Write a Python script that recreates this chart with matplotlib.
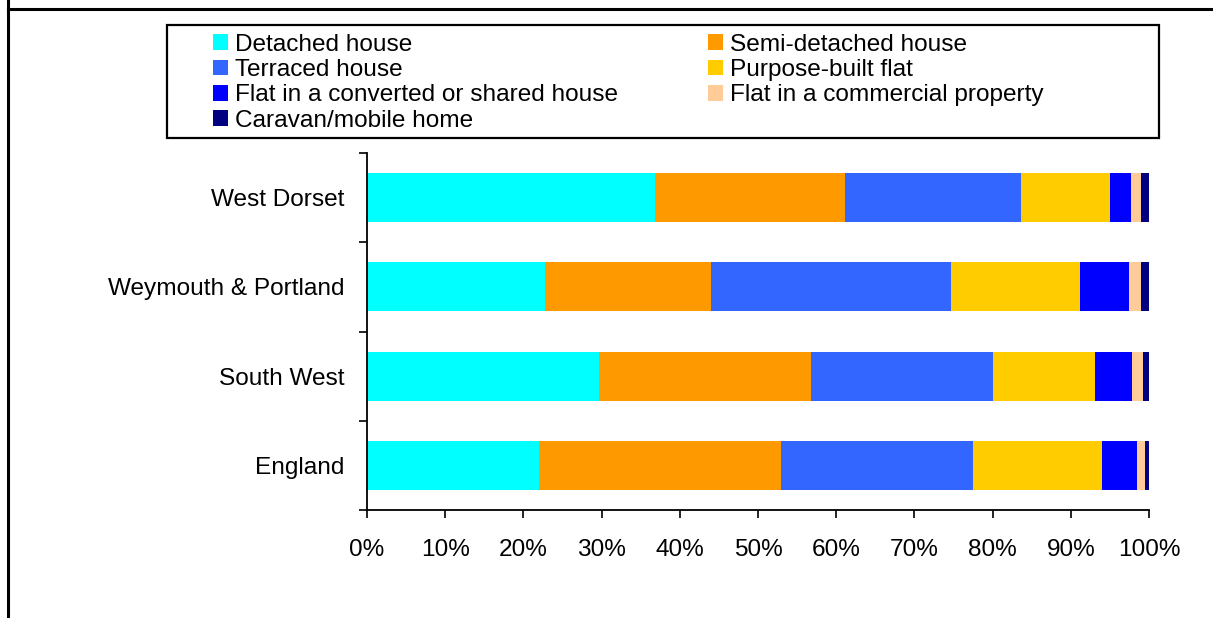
import matplotlib
matplotlib.use("Agg")
import matplotlib.pyplot as plt
from matplotlib.patches import Rectangle
from matplotlib.lines import Line2D
import numpy as np

plt.rcParams['font.family'] = ['Liberation Sans', 'DejaVu Sans']

# Accommodation type shares (% of households) by area
areas = ["West Dorset", "Weymouth & Portland", "South West", "England"]
series_names = [
    "Detached house",
    "Semi-detached house",
    "Terraced house",
    "Purpose-built flat",
    "Flat in a converted or shared house",
    "Flat in a commercial property",
    "Caravan/mobile home",
]
detached = [36.8, 22.8, 29.7, 22.0]
semi_detached = [24.3, 21.2, 27.1, 30.9]
terraced = [22.5, 30.7, 23.3, 24.6]
purpose_built = [11.4, 16.5, 13.0, 16.5]
converted_flat = [2.7, 6.2, 4.7, 4.5]
commercial_flat = [1.3, 1.6, 1.4, 1.0]
caravan = [1.0, 1.0, 0.8, 0.5]
series_values = [detached, semi_detached, terraced, purpose_built,
                 converted_flat, commercial_flat, caravan]
colors = ["#00FFFF", "#FF9900", "#3366FF", "#FFCC00",
          "#0000FF", "#FFCC99", "#000080"]
xtick_labels = ["0%", "10%", "20%", "30%", "40%", "50%",
                "60%", "70%", "80%", "90%", "100%"]

W, H = 1213, 618
FS = 17.6
fig = plt.figure(figsize=(W / 100, H / 100), dpi=100)

def fx(px):
    return px / W

def fy(py):
    return 1 - py / H

# Outer frame lines (left and top)
fig.add_artist(Line2D([fx(8), fx(8)], [0, 1], color="black", lw=2.2,
                      transform=fig.transFigure))
fig.add_artist(Line2D([fx(8), 1], [fy(8.5), fy(8.5)], color="black", lw=2.2,
                      transform=fig.transFigure))

ax = fig.add_axes([fx(367), fy(510), fx(1149) - fx(367), fy(153) - fy(510)])

y = np.arange(len(areas))
left = np.zeros(len(areas))
handles = []
for name, vals, col in zip(series_names, series_values, colors):
    vals = np.array(vals, dtype=float)
    b = ax.barh(y, vals, left=left, height=0.55, color=col, label=name,
                linewidth=0)
    handles.append(b)
    left += vals

ax.set_xlim(0, 100)
ax.set_ylim(len(areas) - 0.5, -0.5)

ax.set_xticks(np.arange(0, 101, 10))
ax.set_xticklabels(xtick_labels, fontsize=FS)
ax.tick_params(axis="x", direction="out", length=6, width=1.2, pad=15,
               colors="black")

ax.set_yticks(y)
ax.set_yticklabels(areas, fontsize=FS)
ax.set_yticks(np.arange(-0.5, len(areas), 1.0), minor=True)
ax.tick_params(axis="y", which="major", length=0, pad=16)
ax.tick_params(axis="y", which="minor", direction="out", length=6, width=1.2)

for side in ("top", "right"):
    ax.spines[side].set_visible(False)
for side in ("left", "bottom"):
    ax.spines[side].set_linewidth(1.3)

# Legend ordered row-wise: two columns
order = [0, 2, 4, 6, 1, 3, 5]
leg = fig.legend([handles[i] for i in order], [series_names[i] for i in order],
                 ncol=2, loc="upper left",
                 bbox_to_anchor=(fx(213), fy(34)),
                 frameon=False, fontsize=FS, borderpad=0, borderaxespad=0,
                 handlelength=0.62, handleheight=0.62, handletextpad=0.3,
                 labelspacing=0.13, columnspacing=3.65)

# Legend frame
fig.add_artist(Rectangle((fx(167), fy(138)), fx(1159) - fx(167),
                         fy(25) - fy(138), transform=fig.transFigure,
                         fill=False, edgecolor="black", linewidth=1.6))

fig.savefig("out.png", dpi=100)
